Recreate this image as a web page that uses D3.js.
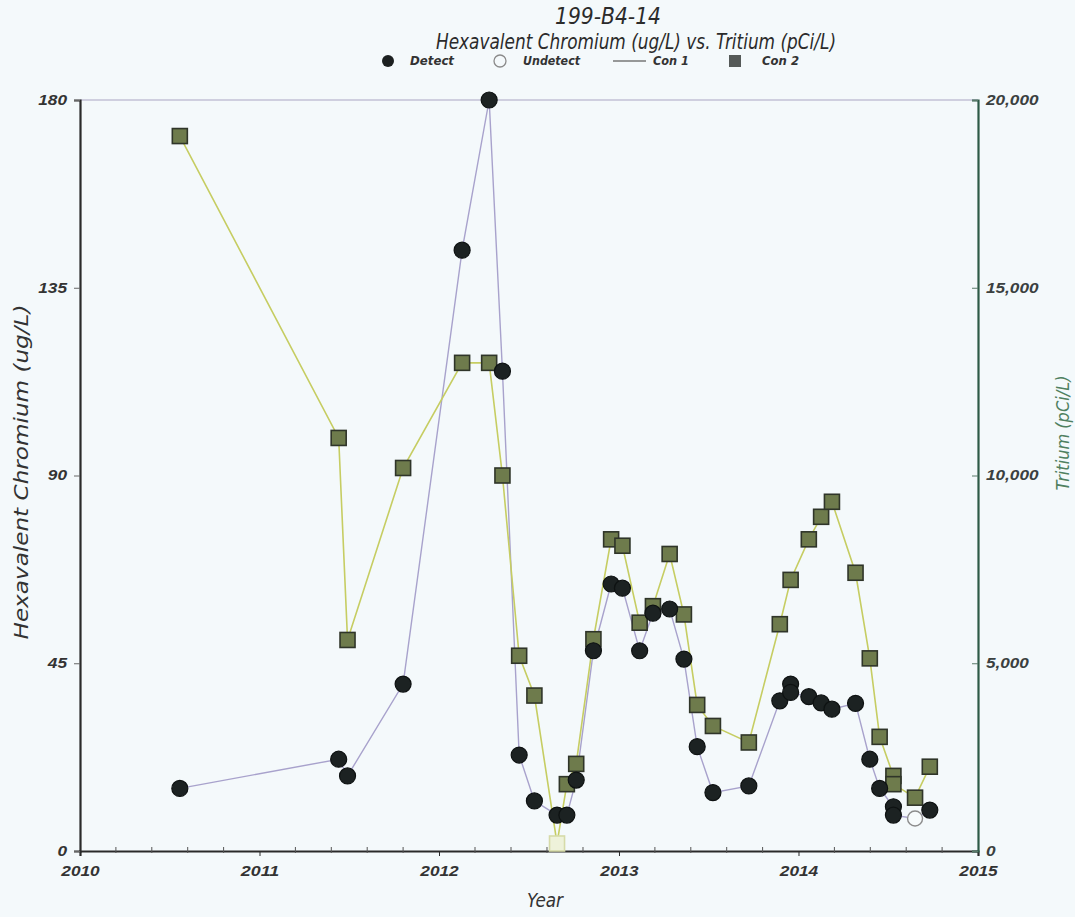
<!DOCTYPE html>
<html><head><meta charset="utf-8">
<script src="https://cdn.jsdelivr.net/npm/d3@7"></script>
<style>
body{margin:0;background:#f4f9fb;}
svg{display:block;font-family:"DejaVu Sans",sans-serif;}
</style>
</head><body>
<svg id="c" width="1075" height="917"></svg>
<script>
// ---------- DATA ----------
const crDates = ["2010-07-23","2011-06-11","2011-06-29","2011-10-20","2012-02-17","2012-04-12","2012-05-09",
  "2012-06-12","2012-07-13","2012-08-28","2012-09-17","2012-10-06","2012-11-10","2012-12-16","2013-01-08",
  "2013-02-12","2013-03-11","2013-04-14","2013-05-13","2013-06-09","2013-07-11","2013-09-22","2013-11-24",
  "2013-12-16","2013-12-16","2014-01-22","2014-02-16","2014-03-10","2014-04-27","2014-05-26","2014-06-15",
  "2014-07-13","2014-07-13","2014-08-26","2014-09-25"];
const crValues = [15,22,18,40,144,180,115,23,12,8.6,8.6,17,48,64,63,48,57,58,46,25,14,15.6,36,40,38,37,35.5,34,35.4,22,15,10.6,8.6,7.8,9.8];
const crDetect = [1,1,1,1,1,1,1,1,1,1,1,1,1,1,1,1,1,1,1,1,1,1,1,1,1,1,1,1,1,1,1,1,1,0,1];

const trDates = ["2010-07-23","2011-06-11","2011-06-29","2011-10-20","2012-02-17","2012-04-12","2012-05-09",
  "2012-06-12","2012-07-13","2012-08-28","2012-09-17","2012-10-06","2012-11-10","2012-12-16","2013-01-08",
  "2013-02-12","2013-03-11","2013-04-14","2013-05-13","2013-06-09","2013-07-11","2013-09-22","2013-11-24",
  "2013-12-16","2014-01-22","2014-02-16","2014-03-10","2014-04-27","2014-05-26","2014-06-15","2014-07-13",
  "2014-07-13","2014-08-26","2014-09-25"];
const trValues = [19040,11000,5620,10200,13000,13000,10000,5200,4140,200,1780,2320,5640,8300,8130,6080,6520,7910,6300,3890,3330,2890,6040,7220,8300,8900,9300,7410,5130,3040,2000,1780,1420,2245];
const trDetect = [1,1,1,1,1,1,1,1,1,0,1,1,1,1,1,1,1,1,1,1,1,1,1,1,1,1,1,1,1,1,1,1,1,1];

const yearTicks = ["2010","2011","2012","2013","2014","2015"];
const leftTicks = [0,45,90,135,180];
const rightTicks = [0,5000,10000,15000,20000];
const titleLines = ["199-B4-14","Hexavalent Chromium (ug/L) vs. Tritium (pCi/L)"];
const legendLabels = ["Detect","Undetect","Con 1","Con 2"];

// ---------- SETUP ----------
const svg = d3.select("#c");
const parse = d3.timeParse("%Y-%m-%d");
const L = 80, R = 978, T = 100, B = 851;

const x = d3.scaleTime().domain([new Date(2010,0,1), new Date(2015,0,1)]).range([L, R]);
const yL = d3.scaleLinear().domain([0,180]).range([B, T]);
const yR = d3.scaleLinear().domain([0,20000]).range([B, T]);

const cr = crDates.map((d,i)=>({date:parse(d), v:crValues[i], det:crDetect[i]}));
const tr = trDates.map((d,i)=>({date:parse(d), v:trValues[i], det:trDetect[i]}));

function fit(sel, w){ sel.attr("textLength", w).attr("lengthAdjust","spacingAndGlyphs"); return sel; }

// plot background + top border
svg.append("rect").attr("x",L).attr("y",T).attr("width",R-L).attr("height",B-T).attr("fill","#f4f9fb");
svg.append("line").attr("x1",L).attr("x2",R).attr("y1",T).attr("y2",T).attr("stroke","#a9a6c4").attr("stroke-width",1.2);

// ---------- TITLES ----------
fit(svg.append("text").attr("x",608).attr("y",24).attr("text-anchor","middle")
  .attr("font-size",23).attr("font-style","italic").attr("fill","#2b2b2b").text(titleLines[0]),106);
fit(svg.append("text").attr("x",636).attr("y",49).attr("text-anchor","middle")
  .attr("font-size",22).attr("font-style","italic").attr("fill","#2b2b2b").text(titleLines[1]),400);

// ---------- LEGEND ----------
const lg = svg.append("g").attr("font-size",12).attr("font-weight","bold").attr("font-style","italic").attr("fill","#333");
lg.append("circle").attr("cx",388).attr("cy",61).attr("r",6).attr("fill","#1c2020");
fit(lg.append("text").attr("x",410).attr("y",65).text(legendLabels[0]),44);
lg.append("circle").attr("cx",500).attr("cy",61).attr("r",6).attr("fill","#f4f9fb").attr("stroke","#8a8a8a").attr("stroke-width",1.3);
fit(lg.append("text").attr("x",523).attr("y",65).text(legendLabels[1]),57);
lg.append("line").attr("x1",613).attr("x2",646).attr("y1",61).attr("y2",61).attr("stroke","#777").attr("stroke-width",1.3);
fit(lg.append("text").attr("x",653).attr("y",65).text(legendLabels[2]),36);
lg.append("rect").attr("x",729).attr("y",55).attr("width",12).attr("height",12).attr("fill","#555a58");
fit(lg.append("text").attr("x",762).attr("y",65).text(legendLabels[3]),37);

// ---------- AXES ----------
const tickFont = g => g.selectAll(".tick text")
  .attr("font-size",14).attr("font-weight","bold").attr("font-style","italic").attr("fill","#333")
  .each(function(){
    const s = d3.select(this).text();
    const digits = s.replace(/[^0-9]/g,"").length, commas = s.replace(/[^,]/g,"").length;
    d3.select(this).attr("textLength", digits*9.6 + commas*4.5).attr("lengthAdjust","spacingAndGlyphs");
  });

const ax = svg.append("g").attr("transform",`translate(0,${B})`)
  .call(d3.axisBottom(x).tickValues(yearTicks.map(y=>new Date(+y,0,1))).tickSize(5).tickPadding(10).tickFormat(d3.timeFormat("%Y")));
ax.select(".domain").attr("stroke","#2a2a2a").attr("stroke-width",2.2);
ax.selectAll(".tick line").attr("stroke","#2a2a2a");
tickFont(ax);
// minor ticks (5 per year)
const minor = [];
for (let yr=2010; yr<2015; yr++){
  const a = x(new Date(yr,0,1)), b = x(new Date(yr+1,0,1));
  for (let k=1;k<5;k++) minor.push(a + k*(b-a)/5);
}
svg.append("g").selectAll("line").data(minor).join("line")
  .attr("x1",d=>d).attr("x2",d=>d).attr("y1",B-4).attr("y2",B+2).attr("stroke","#555").attr("stroke-width",1);

const al = svg.append("g").attr("transform",`translate(${L},0)`)
  .call(d3.axisLeft(yL).tickValues(leftTicks).tickSize(6).tickPadding(7).tickFormat(d3.format("d")));
al.select(".domain").attr("stroke","#2a2a2a").attr("stroke-width",2.2);
al.selectAll(".tick line").attr("stroke","#666");
tickFont(al);

const ar = svg.append("g").attr("transform",`translate(${R},0)`)
  .call(d3.axisRight(yR).tickValues(rightTicks).tickSize(-6).tickPadding(8).tickFormat(d3.format(",")));
ar.select(".domain").attr("stroke","#2e5a47").attr("stroke-width",2.2);
ar.selectAll(".tick line").attr("stroke","#5a7a6a");
tickFont(ar);
ar.selectAll(".tick text").attr("fill","#3a4040");

// axis titles
fit(svg.append("text").attr("transform","translate(28,472) rotate(-90)").attr("text-anchor","middle")
  .attr("font-size",19).attr("font-style","italic").attr("fill","#333").text("Hexavalent Chromium (ug/L)"),335);
fit(svg.append("text").attr("transform","translate(1069,433) rotate(-90)").attr("text-anchor","middle")
  .attr("font-size",17).attr("font-style","italic").attr("fill","#4f8060").text("Tritium (pCi/L)"),115);
fit(svg.append("text").attr("x",545).attr("y",907).attr("text-anchor","middle")
  .attr("font-size",19).attr("font-style","italic").attr("fill","#333").text("Year"),36);

// ---------- SERIES ----------
const crLine = d3.line().x(d=>x(d.date)).y(d=>yL(d.v));
const trLine = d3.line().x(d=>x(d.date)).y(d=>yR(d.v));

svg.append("path").datum(cr).attr("d",crLine).attr("fill","none").attr("stroke","#a8a2cc").attr("stroke-width",1.4);
svg.append("path").datum(tr).attr("d",trLine).attr("fill","none").attr("stroke","#c6cd62").attr("stroke-width",1.6);

const sq = 15;
svg.append("g").selectAll("rect").data(tr).join("rect")
  .attr("x",d=>x(d.date)-sq/2).attr("y",d=>yR(d.v)-sq/2).attr("width",sq).attr("height",sq)
  .attr("fill",d=>d.det?"#6e7b4c":"#eef2da")
  .attr("stroke",d=>d.det?"#2f3529":"#d6dba8").attr("stroke-width",1.6);

svg.append("g").selectAll("circle").data(cr).join("circle")
  .attr("cx",d=>x(d.date)).attr("cy",d=>yL(d.v)).attr("r",d=>d.det?8:7.5)
  .attr("fill",d=>d.det?"#1c2222":"#f7fbfc")
  .attr("stroke",d=>d.det?"#0e1212":"#8c8c8c").attr("stroke-width",d=>d.det?1.2:1.4);
</script>
</body></html>
